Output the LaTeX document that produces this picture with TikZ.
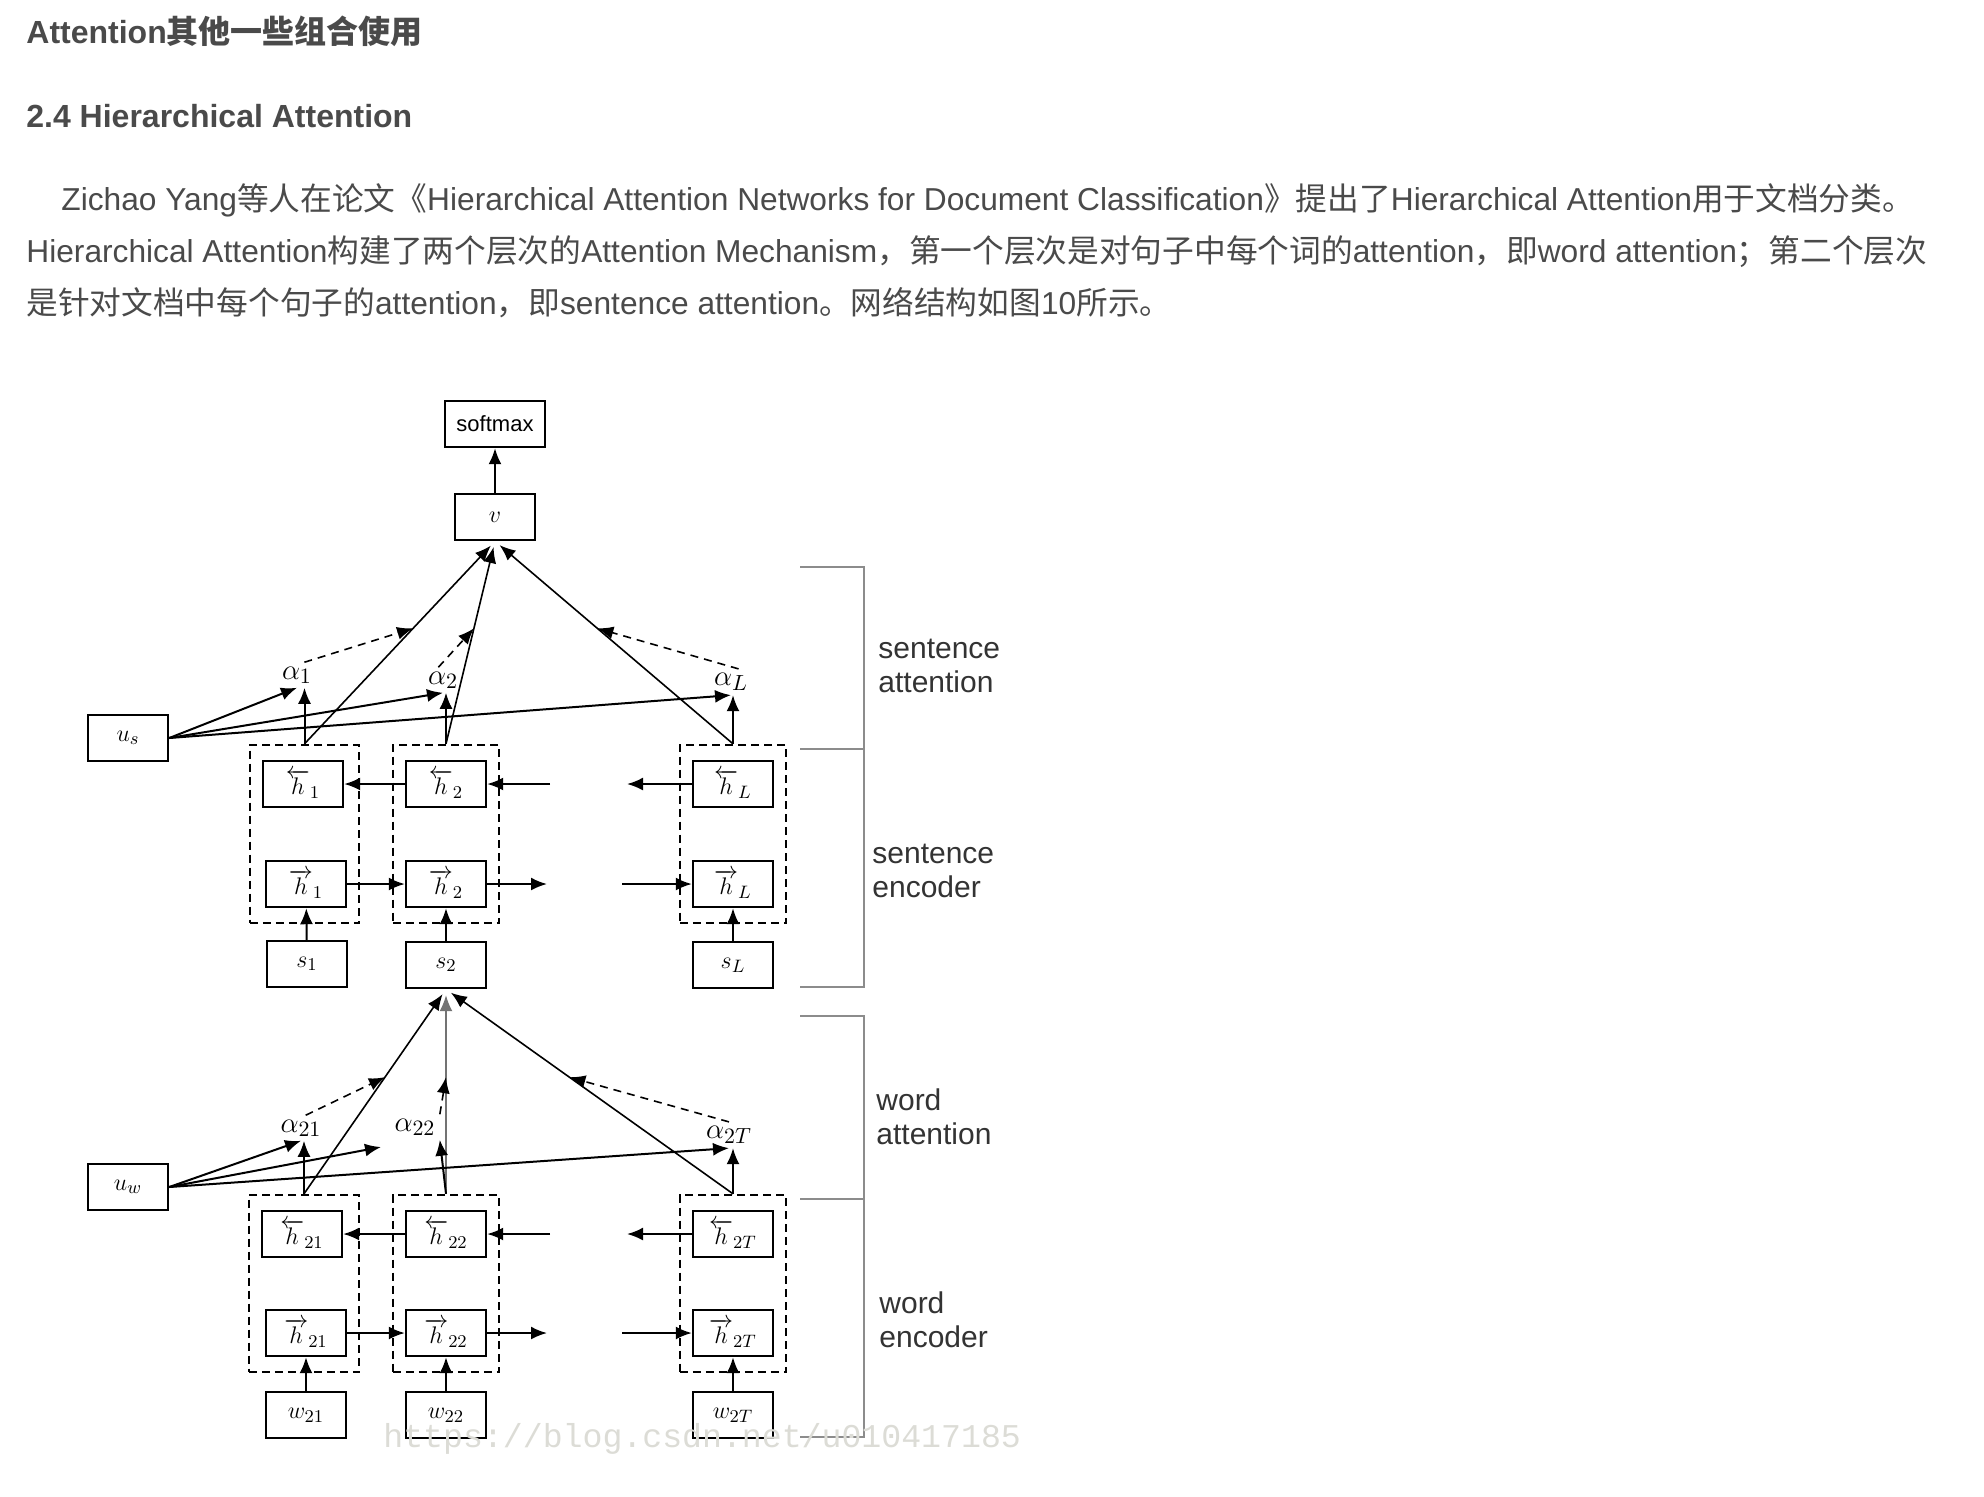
\documentclass[tikz,border=0pt]{standalone}
\usepackage{amsmath}
\usepackage{fontspec}
\setmainfont{Liberation Sans}
\newfontfamily\cjk{Noto Sans CJK SC}
\newfontfamily\wmfont{Liberation Mono}
\usetikzlibrary{positioning,fit,calc,arrows.meta}
\definecolor{txt}{HTML}{4A4A4A}
\definecolor{brk}{HTML}{8C8C8C}
\definecolor{wmark}{HTML}{DCDCD6}
\newcommand{\zh}[1]{{\cjk #1}}

\begin{document}
\begin{tikzpicture}[x=0.5pt,y=-0.5pt,
    every node/.style={inner sep=0pt},
    head/.style={anchor=base west,text=txt,font=\fontsize{16}{18}\selectfont\bfseries},
    body/.style={anchor=base west,text=txt,font=\fontsize{15.85}{18}\selectfont},
    cell/.style={draw,line width=1.2pt,minimum width=40pt,minimum height=23pt,font=\fontsize{13}{15}\selectfont},
    grp/.style={draw,line width=1pt,dash pattern=on 4pt off 2.5pt,inner xsep=6pt,inner ysep=7.5pt},
    lbl/.style={inner sep=2pt,font=\fontsize{15}{17}\selectfont},
    arr/.style={-{Latex[length=8pt,width=6.5pt]},line width=1pt},
    att/.style={arr,line width=0.8pt,shorten >=3pt},
    wgt/.style={arr,line width=0.8pt,dash pattern=on 4pt off 3pt},
    brace/.style={brk,line width=1pt},
    side/.style={anchor=west,align=left,text=black!80,font=\fontsize{15}{17}\selectfont},
  ]
  \fill[white] (0,0) rectangle (1984,1496);
  \useasboundingbox (0,0) rectangle (1984,1496);

  % page text
  \node[head] (t1) at (26,43) {Attention{\fontsize{16}{18}\selectfont\cjk 其他一些组合使用}};
  \node[head] (t2) at (26,127) {2.4 Hierarchical Attention};
  \node[body] (p1) at (61,210) {Zichao Yang\zh{等人在论文《}Hierarchical Attention Networks for Document Classification\zh{》提出了}Hierarchical Attention\zh{用于文档分类。}};
  \node[body] (p2) at (26,262) {Hierarchical Attention\zh{构建了两个层次的}Attention Mechanism\zh{，第一个层次是对句子中每个词的}attention\zh{，即}word attention\zh{；第二个层次}};
  \node[body] (p3) at (26,314) {\zh{是针对文档中每个句子的}attention\zh{，即}sentence attention\zh{。网络结构如图}10\zh{所示。}};

  % sentence level
  \node[cell,minimum width=50pt,font=\fontsize{11}{13}\selectfont] (smax) at (495,424) {softmax};
  \node[cell] (v) at (495,517) {$v$};
  \node[cell] (us) at (128,738) {$u_s$};
  \node[cell] (hb1) at (303,784) {$\overleftarrow{h}_1$};
  \node[cell] (hb2) at (446,784) {$\overleftarrow{h}_2$};
  \node[cell] (hbL) at (733,784) {$\overleftarrow{h}_L$};
  \node[cell] (hf1) at (306,884) {$\overrightarrow{h}_1$};
  \node[cell] (hf2) at (446,884) {$\overrightarrow{h}_2$};
  \node[cell] (hfL) at (733,884) {$\overrightarrow{h}_L$};
  \node[cell] (s1) at (307,964) {$s_1$};
  \node[cell] (s2) at (446,965) {$s_2$};
  \node[cell] (sL) at (733,965) {$s_L$};
  \node[grp,fit=(hb1)(hf1)] (g1) {};
  \node[grp,fit=(hb2)(hf2)] (g2) {};
  \node[grp,fit=(hbL)(hfL)] (gL) {};
  \node[lbl] (a1) at (297,675) {$\alpha_1$};
  \node[lbl] (a2) at (443,680) {$\alpha_2$};
  \node[lbl] (aL) at (731,682) {$\alpha_L$};

  \draw[arr] (v) -- (smax);
  \draw[arr] (hb2) -- (hb1);
  \coordinate (bi2) at (550,784); \draw[arr] (bi2) -- (hb2.east);
  \coordinate (bo2) at (627,784); \draw[arr] (hbL) -- (bo2);
  \draw[arr] (hf1) -- (hf2);
  \coordinate (fo2) at (547,884); \draw[arr] (hf2) -- (fo2);
  \coordinate (fi2) at (622,884); \draw[arr] (fi2) -- (hfL.west);
  \draw[arr] (s1) -- (hf1); \draw[arr] (s2) -- (hf2); \draw[arr] (sL) -- (hfL);

  \draw[att] (g1.north) -- (v.south);
  \draw[att] (g2.north) -- (v.south);
  \draw[att] (gL.north) -- (v.south);
  \draw[arr] (g1.north) -- (g1.north |- a1.south);
  \draw[arr] (g2.north) -- (g2.north |- a2.south);
  \draw[arr] (gL.north) -- (gL.north |- aL.south);
  \draw[arr] (us.east) -- (a1.south);
  \draw[arr] (us.east) -- (a2.south);
  \draw[arr] (us.east) -- (aL.south);
  \coordinate (m1) at ($(g1.north)!0.57!(v.south)$);
  \coordinate (m2) at ($(g2.north)!0.57!(v.south)$);
  \coordinate (mL) at ($(gL.north)!0.57!(v.south)$);
  \draw[wgt] (a1.60) -- (m1);
  \draw[wgt] (a2.110) -- (m2);
  \draw[wgt] (aL.60) -- (mL);

  % word level
  \node[cell] (uw) at (128,1187) {$u_w$};
  \node[cell] (hb21) at (302,1234) {$\overleftarrow{h}_{21}$};
  \node[cell] (hb22) at (446,1234) {$\overleftarrow{h}_{22}$};
  \node[cell] (hb2T) at (733,1234) {$\overleftarrow{h}_{2T}$};
  \node[cell] (hf21) at (306,1333) {$\overrightarrow{h}_{21}$};
  \node[cell] (hf22) at (446,1333) {$\overrightarrow{h}_{22}$};
  \node[cell] (hf2T) at (733,1333) {$\overrightarrow{h}_{2T}$};
  \node[cell] (w21) at (306,1415) {$w_{21}$};
  \node[cell] (w22) at (446,1415) {$w_{22}$};
  \node[cell] (w2T) at (733,1415) {$w_{2T}$};
  \node[grp,fit=(hb21)(hf21)] (wg1) {};
  \node[grp,fit=(hb22)(hf22)] (wg2) {};
  \node[grp,fit=(hb2T)(hf2T)] (wgT) {};
  \node[lbl] (a21) at (301,1128) {$\alpha_{21}$};
  \node[lbl] (a22) at (415,1127) {$\alpha_{22}$};
  \node[lbl] (a2T) at (729,1135) {$\alpha_{2T}$};

  \draw[arr] (hb22) -- (hb21);
  \coordinate (bi22) at (550,1234); \draw[arr] (bi22) -- (hb22.east);
  \coordinate (bo22) at (627,1234); \draw[arr] (hb2T) -- (bo22);
  \draw[arr] (hf21) -- (hf22);
  \coordinate (fo22) at (547,1333); \draw[arr] (hf22) -- (fo22);
  \coordinate (fi22) at (622,1333); \draw[arr] (fi22) -- (hf2T.west);
  \draw[arr] (w21) -- (hf21); \draw[arr] (w22) -- (hf22); \draw[arr] (w2T) -- (hf2T);

  \draw[att] (wg1.north) -- (s2.south);
  \draw[att,black!55] (wg2.north) -- (s2.south);
  \draw[att] (wgT.north) -- (s2.south);
  \draw[arr] (wg1.north) -- (wg1.north |- a21.south);
  \draw[arr] (wg2.north) -- (a22.south east);
  \draw[arr] (wgT.north) -- (wgT.north |- a2T.south);
  \coordinate (u22) at (381,1147);
  \draw[arr] (uw.east) -- (a21.south);
  \draw[arr] (uw.east) -- (u22);
  \draw[arr] (uw.east) -- (a2T.south);
  \coordinate (n1) at ($(wg1.north)!0.57!(s2.south)$);
  \coordinate (n2) at ($(wg2.north)!0.57!(s2.south)$);
  \coordinate (nT) at ($(wgT.north)!0.57!(s2.south)$);
  \draw[wgt] (a21.70) -- (n1);
  \draw[wgt] (a22.north east) -- (n2);
  \draw[wgt] (a2T.north) -- (nT);

  % brackets
  \draw[brace] (800,567) -- (864,567) -- (864,987) -- (800,987);
  \draw[brace] (800,749) -- (864,749);
  \draw[brace] (800,1016) -- (864,1016) -- (864,1437) -- (800,1437);
  \draw[brace] (800,1199) -- (864,1199);
  \node[side] (sa) at (878,666) {sentence\\attention};
  \node[side] (se) at (872,871) {sentence\\encoder};
  \node[side] (wa) at (876,1117) {word\\attention};
  \node[side] (we) at (879,1320) {word\\encoder};

  \node[anchor=west,text=wmark,font=\wmfont\fontsize{16.6}{18}\selectfont] (wm) at (383,1439) {https://blog.csdn.net/u010417185};
\end{tikzpicture}
\end{document}
